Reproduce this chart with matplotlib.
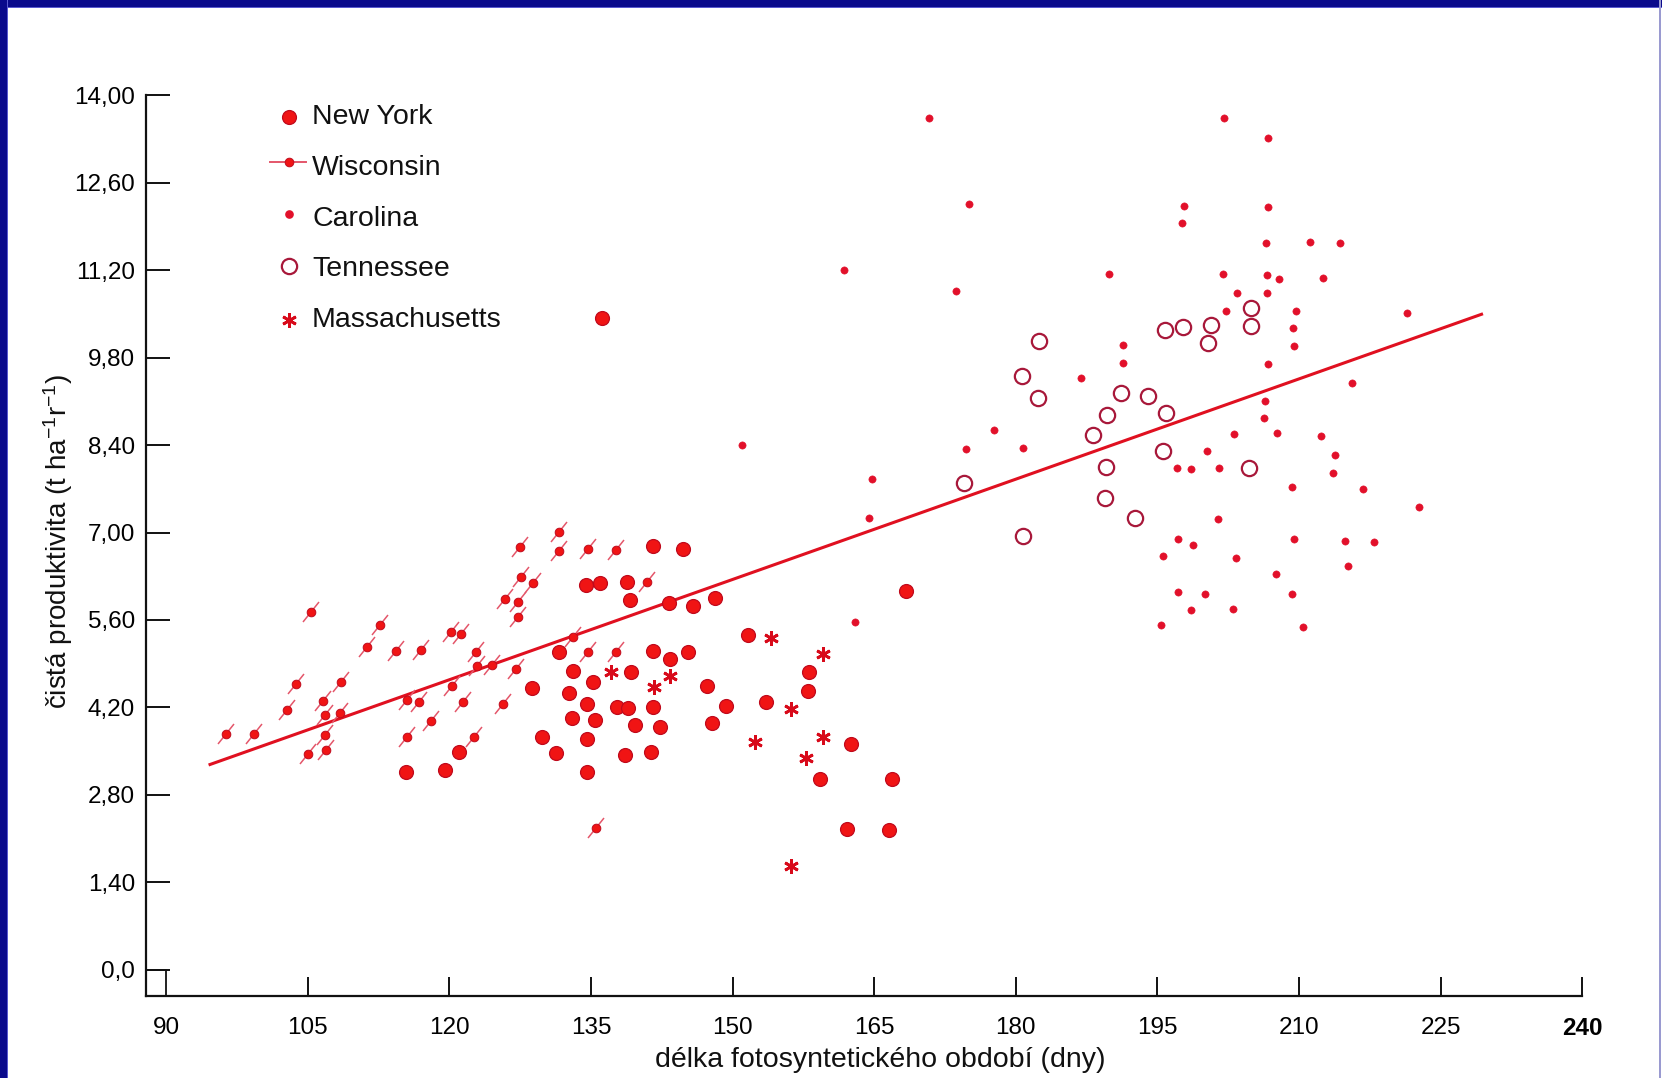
import matplotlib
matplotlib.use("Agg")
import matplotlib.pyplot as plt
from matplotlib.markers import MarkerStyle
from matplotlib.transforms import Affine2D
from matplotlib.patches import Rectangle

plt.rcParams['font.family'] = ['Liberation Sans', 'DejaVu Sans']
plt.rcParams['mathtext.fontset'] = 'custom'
plt.rcParams['mathtext.rm'] = 'Liberation Sans'
plt.rcParams['mathtext.it'] = 'Liberation Sans:italic'

# ---- data: length of photosynthetic season (days) vs net productivity ----
ny_days = [115.4, 119.55, 121.05, 128.8, 129.8, 131.3, 131.65, 133.1, 132.7, 134.55,
           132.95, 134.55, 134.55, 134.5, 135.95, 135.2, 135.45, 138.85, 139.15, 141.55,
           144.8, 143.3, 145.85, 148.15, 139.2, 141.55, 143.4, 145.3, 137.75, 138.95,
           141.55, 139.65, 142.3, 138.6, 141.35, 147.35, 149.3, 147.8, 151.65, 153.6,
           158.15, 158.0, 162.5, 159.25, 166.85, 162.15, 166.6, 168.4, 136.2]
ny_prod = [3.16, 3.20, 3.48, 4.51, 3.73, 3.47, 5.08, 4.79, 4.43, 4.26,
           4.03, 3.69, 3.17, 6.16, 6.19, 4.61, 4.00, 6.21, 5.92, 6.79,
           6.73, 5.87, 5.82, 5.95, 4.77, 5.11, 4.97, 5.09, 4.21, 4.19,
           4.21, 3.92, 3.88, 3.44, 3.49, 4.54, 4.22, 3.95, 5.36, 4.28,
           4.76, 4.47, 3.62, 3.05, 3.05, 2.25, 2.24, 6.07, 10.43]

wi_days = [96.3, 99.3, 102.8, 103.8, 105.35, 106.65, 106.8, 106.8, 106.9, 105.0,
           108.4, 108.5, 111.3, 112.7, 114.3, 115.55, 116.8, 115.5, 118.1, 117.0,
           120.15, 121.2, 120.25, 121.5, 122.65, 122.8, 122.95, 124.55, 127.1, 125.65,
           127.5, 127.55, 128.9, 125.9, 127.3, 127.3, 131.65, 131.65, 134.7, 133.1,
           134.7, 135.5, 137.65, 140.9, 137.65]
wi_prod = [3.78, 3.78, 4.16, 4.58, 5.72, 4.31, 4.08, 3.76, 3.52, 3.45,
           4.11, 4.60, 5.16, 5.52, 5.11, 4.32, 4.28, 3.72, 3.99, 5.12,
           5.41, 5.38, 4.55, 4.29, 3.72, 5.08, 4.86, 4.88, 4.81, 4.26,
           6.77, 6.29, 6.20, 5.93, 5.88, 5.65, 7.01, 6.71, 6.73, 5.33,
           5.09, 2.27, 6.72, 6.21, 5.09]

ca_days = [170.85, 175.1, 161.8, 173.65, 189.9, 191.35, 191.35, 186.9, 151.05, 177.7,
           174.7, 180.75, 164.75, 164.45, 163.0, 202.05, 206.7, 197.8, 197.65, 206.7,
           206.5, 211.2, 214.3, 202.0, 206.65, 207.9, 212.6, 203.4, 206.6, 202.25,
           209.7, 209.4, 209.5, 221.4, 206.7, 215.6, 206.4, 206.35, 203.15, 207.7,
           212.3, 200.25, 213.8, 197.1, 198.55, 201.55, 213.65, 209.25, 216.8, 222.7,
           201.4, 197.2, 198.8, 195.65, 203.35, 209.5, 214.9, 218.0, 215.15, 207.55,
           197.15, 200.1, 209.3, 198.55, 203.05, 195.35, 210.45]
ca_prod = [13.64, 12.26, 11.20, 10.87, 11.14, 10.00, 9.72, 9.47, 8.40, 8.64,
           8.33, 8.35, 7.85, 7.24, 5.57, 13.64, 13.31, 12.22, 11.96, 12.21,
           11.64, 11.65, 11.63, 11.13, 11.12, 11.06, 11.08, 10.84, 10.83, 10.54,
           10.55, 10.27, 9.98, 10.51, 9.70, 9.40, 9.11, 8.83, 8.57, 8.59,
           8.54, 8.30, 8.24, 8.04, 8.01, 8.04, 7.96, 7.73, 7.69, 7.41,
           7.21, 6.89, 6.80, 6.62, 6.60, 6.89, 6.87, 6.85, 6.47, 6.33,
           6.05, 6.01, 6.02, 5.76, 5.77, 5.52, 5.48]

tn_days = [182.5, 180.65, 182.35, 191.2, 194.0, 189.65, 188.2, 174.5, 189.55, 189.45,
           192.6, 180.75, 204.9, 204.9, 197.75, 195.8, 200.7, 200.35, 195.9, 195.65,
           204.75]
tn_prod = [10.07, 9.50, 9.15, 9.23, 9.18, 8.88, 8.56, 7.79, 8.05, 7.56,
           7.24, 6.94, 10.59, 10.30, 10.29, 10.24, 10.32, 10.03, 8.91, 8.31,
           8.03]

ma_days = [154.05, 159.6, 137.1, 143.4, 141.7, 156.15, 152.4, 159.55, 157.8, 156.15]
ma_prod = [5.31, 5.06, 4.77, 4.70, 4.53, 4.17, 3.65, 3.73, 3.39, 1.66]

trend_days = [94.5, 229.5]
trend_prod = [3.28, 10.50]

x_ticks = [90, 105, 120, 135, 150, 165, 180, 195, 210, 225, 240]
y_ticks = [0.0, 1.4, 2.8, 4.2, 5.6, 7.0, 8.4, 9.8, 11.2, 12.6, 14.0]
y_tick_labels = ["0,0", "1,40", "2,80", "4,20", "5,60", "7,00",
                 "8,40", "9,80", "11,20", "12,60", "14,00"]

legend_labels = ["New York", "Wisconsin", "Carolina", "Tennessee", "Massachusetts"]

# ---- styles ----
RED = "#f01414"
RED_EDGE = "#c00a1c"
DOT = "#e2102a"
RING = "#a8183a"
STEM = "#e4566a"

W, H = 1662, 1078
fig = plt.figure(figsize=(W / 100, H / 100), dpi=100)
fig.patch.set_facecolor("white")

ax = fig.add_axes([0.08785, 0.07607, 0.86408, 0.8358])
x_lo, y_lo = 87.87, -0.416
ax.set_xlim(x_lo, 240)
ax.set_ylim(y_lo, 14.0)

for side in ("top", "right"):
    ax.spines[side].set_visible(False)
for side in ("left", "bottom"):
    ax.spines[side].set_linewidth(1.6)
    ax.spines[side].set_color("#111111")

ax.set_xticks(x_ticks)
ax.set_xticklabels([str(v) for v in x_ticks])
ax.set_yticks(y_ticks)
ax.set_yticklabels(y_tick_labels)
ax.tick_params(axis="y", direction="in", length=17, width=1.4, pad=8,
               labelsize=17.5, color="#111111")
ax.tick_params(axis="x", direction="in", length=14, width=1.4, pad=15,
               labelsize=17.5, color="#111111")
ax.xaxis.get_major_ticks()[0].tick1line.set_visible(False)
ax.get_xticklabels()[-1].set_fontweight("bold")

# axis-break box in the lower left corner
ax.plot([x_lo, 90, 90], [0, 0, y_lo], color="#111111", lw=1.3,
        clip_on=False, zorder=3)

# regression line
ax.plot(trend_days, trend_prod, color="#e01020", lw=2.2, zorder=2,
        solid_capstyle="butt")

# Wisconsin: dot with a slanted stroke
stem = MarkerStyle("|", transform=Affine2D().rotate_deg(-39))
ax.plot(wi_days, wi_prod, linestyle="none", marker=stem, markersize=19,
        markeredgewidth=1.1, markeredgecolor=STEM, zorder=3, clip_on=False)
ax.plot(wi_days, wi_prod, linestyle="none", marker="o", markersize=6.2,
        markerfacecolor=RED, markeredgecolor=RED_EDGE, markeredgewidth=0.7,
        zorder=4, clip_on=False)

# New York
ax.plot(ny_days, ny_prod, linestyle="none", marker="o", markersize=10,
        markerfacecolor=RED, markeredgecolor=RED_EDGE, markeredgewidth=0.9,
        zorder=4, clip_on=False)

# Carolina
ax.plot(ca_days, ca_prod, linestyle="none", marker="o", markersize=5.2,
        markerfacecolor=DOT, markeredgecolor=DOT, markeredgewidth=0.4,
        zorder=4, clip_on=False)

# Tennessee
ax.plot(tn_days, tn_prod, linestyle="none", marker="o", markersize=11,
        markerfacecolor="none", markeredgecolor=RING, markeredgewidth=1.6,
        zorder=4, clip_on=False)

# Massachusetts
ax.plot(ma_days, ma_prod, linestyle="none", marker=(6, 2, 0), markersize=10.5,
        markeredgecolor="#d80a1a", markeredgewidth=2.0, zorder=4, clip_on=False)

# ---- legend drawn in figure pixels ----
def fx(px):
    return px / W


def fy(py):
    return 1 - py / H


legend_rows = [117, 168, 219, 269, 320]
marker_x = 289
handles = [
    dict(marker="o", markersize=10, markerfacecolor=RED, markeredgecolor=RED_EDGE,
         markeredgewidth=0.9),
    None,
    dict(marker="o", markersize=5.2, markerfacecolor=DOT, markeredgecolor=DOT),
    dict(marker="o", markersize=11, markerfacecolor="none", markeredgecolor=RING,
         markeredgewidth=1.6),
    dict(marker=(6, 2, 0), markersize=10.5, markeredgecolor="#d80a1a",
         markeredgewidth=2.0),
]
for row, (label, h) in enumerate(zip(legend_labels, handles)):
    py = legend_rows[row]
    if h is None:
        fig.lines.append(plt.Line2D([fx(270), fx(306)], [fy(py - 6), fy(py - 6)],
                                    transform=fig.transFigure, color=STEM, lw=1.4))
        fig.lines.append(plt.Line2D([fx(marker_x)], [fy(py - 6)], transform=fig.transFigure,
                                    linestyle="none", marker="o", markersize=6.2,
                                    markerfacecolor=RED, markeredgecolor=RED_EDGE,
                                    markeredgewidth=0.7))
    else:
        off = -5 if row == 2 else (-3 if row == 3 else 0)
        fig.lines.append(plt.Line2D([fx(marker_x)], [fy(py + off)], transform=fig.transFigure,
                                    linestyle="none", **h))
    fig.text(fx(312), fy(py), label, fontsize=20.5, ha="left", va="center",
             color="#111111")

# ---- axis titles ----
fig.text(fx(880), fy(1060), "délka fotosyntetického období (dny)", fontsize=20.5,
         ha="center", va="center", color="#111111")
fig.text(fx(58), fy(541), r"čistá produktivita (t ha$^{-1}$r$^{-1}$)", fontsize=20,
         ha="center", va="center", rotation=90, color="#111111")

# ---- slide frame ----
fig.patches.append(Rectangle((0, fy(7)), 1, 7 / H, transform=fig.transFigure,
                             facecolor="#0a0a8c", edgecolor="none", zorder=10))
fig.patches.append(Rectangle((0, fy(8)), 1, 1.5 / H, transform=fig.transFigure,
                             facecolor="#5a5ad0", edgecolor="none", zorder=10))
fig.patches.append(Rectangle((0, 0), 7 / W, 1, transform=fig.transFigure,
                             facecolor="#0a0a8c", edgecolor="none", zorder=10))
fig.patches.append(Rectangle((7 / W, 0), 1.5 / W, 1, transform=fig.transFigure,
                             facecolor="#5a5ad0", edgecolor="none", zorder=10))
fig.patches.append(Rectangle((1 - 3 / W, 0), 2 / W, 1, transform=fig.transFigure,
                             facecolor="#9a9ad0", edgecolor="none", zorder=10))

fig.savefig("out.png", dpi=100, facecolor="white")
